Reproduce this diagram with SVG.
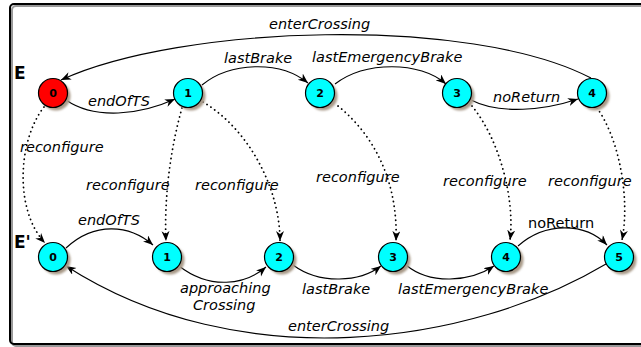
<svg xmlns="http://www.w3.org/2000/svg" width="641" height="347" viewBox="0 0 641 347">
  <defs>
    <marker id="arrow" markerWidth="11" markerHeight="9" refX="10" refY="4" orient="auto" markerUnits="userSpaceOnUse">
      <path d="M0,0 L10,4 L0,8 L3,4 z" fill="#000"/>
    </marker>
    <filter id="soft" x="-30%" y="-30%" width="160%" height="160%">
      <feGaussianBlur stdDeviation="0.8"/>
    </filter>
  </defs>
  <style>
    .frame { fill: none; stroke: #000; stroke-width: 2; }
    .frameShadow { fill: none; stroke: #999; stroke-width: 2; }
    .node { stroke: #000; stroke-width: 1.2; }
    .cyan { fill: #00ffff; }
    .red { fill: #ff0000; }
    .shadow { fill: #a89a88; filter: url(#soft); }
    .num { font-family: "DejaVu Sans", sans-serif; font-weight: bold; font-size: 11px; text-anchor: middle; fill: #000; }
    .edge { fill: none; stroke: #000; stroke-width: 1.1; marker-end: url(#arrow); }
    .dotted { stroke-dasharray: 0.1 4.6; stroke-linecap: round; stroke-width: 1.8; }
    .lbl { font-family: "DejaVu Sans", sans-serif; font-style: italic; font-size: 14.5px; fill: #000; }
    .lblUp { font-family: "DejaVu Sans", sans-serif; font-size: 14.5px; fill: #000; }
    .title { font-family: "DejaVu Sans", sans-serif; font-weight: bold; font-size: 17px; fill: #000; }
  </style>

  <rect width="641" height="347" fill="#fff"/>

  <!-- outer frame -->
  <rect class="frameShadow" x="12" y="6" width="660" height="340" rx="4"/>
  <rect class="frame" x="10" y="4" width="660" height="340" rx="4"/>

  <text class="title" x="14" y="79">E</text>
  <text class="title" x="14" y="248">E'</text>

  <!-- connectors -->
  <g id="connectors">
    <!-- upper automaton E -->
    <path class="edge" d="M66,100 C95,120 140,115 175,99"/>
    <path class="edge" d="M202,85 C230,62 280,60 308,83"/>
    <path class="edge" d="M335,84 C365,61 420,61 446,84"/>
    <path class="edge" d="M471,100 C500,115 545,110 578,99"/>
    <path class="edge" d="M591,78 C470,15 180,25 61,80"/>

    <!-- reconfigure links E to E' -->
    <path class="edge dotted" d="M44,107 C18,140 14,210 45,243"/>
    <path class="edge dotted" d="M182,108 C170,150 164,200 166,241"/>
    <path class="edge dotted" d="M203,102 C250,130 280,190 280,241"/>
    <path class="edge dotted" d="M338,106 C380,140 398,190 396,241"/>
    <path class="edge dotted" d="M472,106 C500,140 515,200 510,240"/>
    <path class="edge dotted" d="M597,108 C620,140 630,200 622,240"/>

    <!-- lower automaton E' -->
    <path class="edge" d="M66,248 C95,221 130,225 153,245"/>
    <path class="edge" d="M179,266 C210,290 245,285 266,267"/>
    <path class="edge" d="M293,265 C320,285 360,282 381,266"/>
    <path class="edge" d="M406,265 C430,285 470,282 494,266"/>
    <path class="edge" d="M518,246 C545,222 585,222 607,245"/>
    <path class="edge" d="M606,264 C470,345 240,378 66,266"/>
  </g>

  <!-- edge labels -->
  <g id="labels">
    <text class="lbl" x="269" y="29">enterCrossing</text>
    <text class="lbl" x="88" y="106">endOfTS</text>
    <text class="lbl" x="224" y="63">lastBrake</text>
    <text class="lbl" x="312" y="62">lastEmergencyBrake</text>
    <text class="lbl" x="493" y="102">noReturn</text>

    <text class="lbl" x="20" y="152">reconfigure</text>
    <text class="lbl" x="86" y="190">reconfigure</text>
    <text class="lbl" x="195" y="190">reconfigure</text>
    <text class="lbl" x="316" y="182">reconfigure</text>
    <text class="lbl" x="443" y="186">reconfigure</text>
    <text class="lbl" x="548" y="186">reconfigure</text>

    <text class="lbl" x="78" y="225">endOfTS</text>
    <text class="lbl" x="180" y="293">approaching</text>
    <text class="lbl" x="193" y="310">Crossing</text>
    <text class="lbl" x="302" y="294">lastBrake</text>
    <text class="lbl" x="398" y="294">lastEmergencyBrake</text>
    <text class="lblUp" x="528" y="228">noReturn</text>
    <text class="lbl" x="288" y="331">enterCrossing</text>
  </g>

  <!-- states of E -->
  <g id="E0"><circle class="shadow" cx="56" cy="96" r="14.5"/><circle class="node red" cx="53" cy="93" r="14.5"/><text class="num" x="53" y="97">0</text></g>
  <g id="E1"><circle class="shadow" cx="191" cy="96" r="14.5"/><circle class="node cyan" cx="188" cy="93" r="14.5"/><text class="num" x="188" y="97">1</text></g>
  <g id="E2"><circle class="shadow" cx="323" cy="96" r="14.5"/><circle class="node cyan" cx="320" cy="93" r="14.5"/><text class="num" x="320" y="97">2</text></g>
  <g id="E3"><circle class="shadow" cx="460" cy="96" r="14.5"/><circle class="node cyan" cx="457" cy="93" r="14.5"/><text class="num" x="457" y="97">3</text></g>
  <g id="E4"><circle class="shadow" cx="595" cy="96" r="14.5"/><circle class="node cyan" cx="592" cy="93" r="14.5"/><text class="num" x="592" y="97">4</text></g>

  <!-- states of E' -->
  <g id="Ep0"><circle class="shadow" cx="56" cy="260" r="14.5"/><circle class="node cyan" cx="53" cy="257" r="14.5"/><text class="num" x="53" y="261">0</text></g>
  <g id="Ep1"><circle class="shadow" cx="170" cy="260" r="14.5"/><circle class="node cyan" cx="167" cy="257" r="14.5"/><text class="num" x="167" y="261">1</text></g>
  <g id="Ep2"><circle class="shadow" cx="282" cy="260" r="14.5"/><circle class="node cyan" cx="279" cy="257" r="14.5"/><text class="num" x="279" y="261">2</text></g>
  <g id="Ep3"><circle class="shadow" cx="396" cy="260" r="14.5"/><circle class="node cyan" cx="393" cy="257" r="14.5"/><text class="num" x="393" y="261">3</text></g>
  <g id="Ep4"><circle class="shadow" cx="509" cy="260" r="14.5"/><circle class="node cyan" cx="506" cy="257" r="14.5"/><text class="num" x="506" y="261">4</text></g>
  <g id="Ep5"><circle class="shadow" cx="622" cy="260" r="14.5"/><circle class="node cyan" cx="619" cy="257" r="14.5"/><text class="num" x="619" y="261">5</text></g>
</svg>
